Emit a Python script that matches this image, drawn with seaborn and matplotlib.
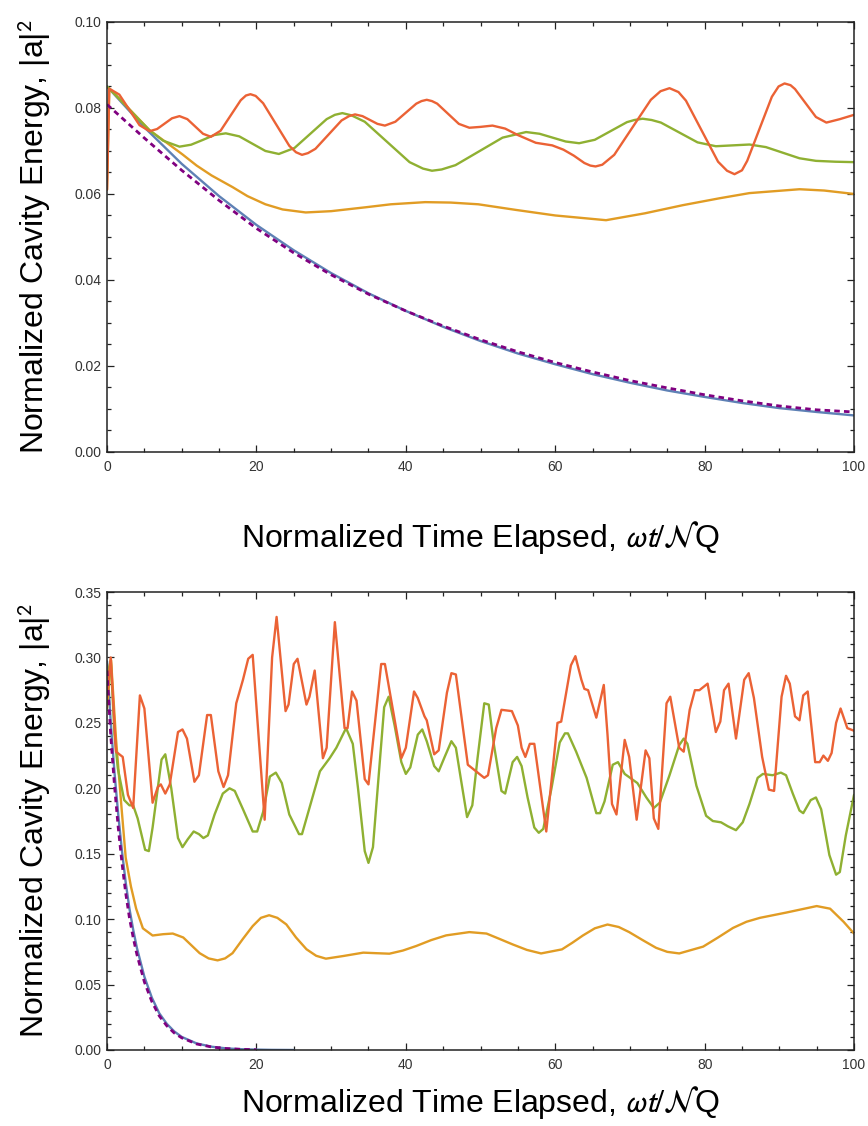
import matplotlib
matplotlib.use("Agg")
import matplotlib.pyplot as plt
import seaborn as sns
from matplotlib.ticker import MultipleLocator, FormatStrFormatter

# ---------------- top panel data ----------------
top_blue_t = [0, 5, 10, 15, 20, 25, 30, 35, 40, 45, 50, 55, 60, 65, 70, 75, 80, 85, 90, 95, 100]
top_blue_y = [0.0850, 0.0755, 0.0670, 0.0595, 0.0528, 0.0469, 0.0416, 0.0369, 0.0328, 0.0291, 0.0258,
              0.0229, 0.0204, 0.0181, 0.0161, 0.0143, 0.0128, 0.0114, 0.0102, 0.0093, 0.0085]
top_purple_t = top_blue_t
top_purple_y = [0.0808, 0.0730, 0.0655, 0.0585, 0.0520, 0.0463, 0.0412, 0.0367, 0.0328, 0.0293, 0.0261,
                0.0233, 0.0208, 0.0186, 0.0166, 0.0149, 0.0133, 0.0119, 0.0107, 0.0098, 0.0093]
top_orange_t = [0, 0.3, 2, 4, 5.7, 8, 10.1, 12, 14, 16.8, 18.8, 21.2, 23.5, 26.6, 30, 34.6, 38, 42.6, 46,
                49.7, 54.7, 60, 66.8, 72, 77.1, 82, 86, 92.7, 96, 100]
top_orange_y = [0.061, 0.0845, 0.0815, 0.0779, 0.0748, 0.0719, 0.0692, 0.0666, 0.0643, 0.0616, 0.0595,
                0.0576, 0.0564, 0.0557, 0.0560, 0.0569, 0.0576, 0.0581, 0.0580, 0.0576, 0.0563, 0.0550,
                0.0539, 0.0555, 0.0574, 0.0590, 0.0602, 0.0611, 0.0608, 0.0600]
top_green_t = [0, 0.3, 2, 4, 5.7, 7.5, 9.7, 11.25, 12.8, 14.35, 15.9, 17.7, 19.45, 21.2, 23.0, 25.1, 27.25,
               29.4, 30.5, 31.5, 32.7, 34.5, 37.5, 40.5, 42.3, 43.5, 44.8, 46.65, 49.8, 52.95, 56.1, 57.9,
               59.65, 61.4, 63.2, 65.3, 67.45, 69.6, 70.6, 71.7, 72.9, 74.15, 76.6, 79.05, 81.5, 83.75,
               86.0, 88.2, 90.45, 92.7, 94.9, 97.5, 100]
top_green_y = [0.0850, 0.0845, 0.0815, 0.0778, 0.0748, 0.0724, 0.0710, 0.07145, 0.07255, 0.0737, 0.0741,
               0.0734, 0.0717, 0.0700, 0.0693, 0.0707, 0.07405, 0.0774, 0.0784, 0.0788, 0.0783, 0.0768,
               0.0721, 0.0674, 0.0659, 0.0654, 0.0657, 0.0667, 0.0699, 0.0731, 0.0744, 0.0740, 0.0731,
               0.0722, 0.0718, 0.0726, 0.07465, 0.0767, 0.0772, 0.0775, 0.0772, 0.0766, 0.0743, 0.0720,
               0.0711, 0.0713, 0.0715, 0.0709, 0.0696, 0.0683, 0.0677, 0.0675, 0.0674]
top_red_t = [0, 0.3, 1.65, 3.0, 4.35, 5.7, 6.7, 7.7, 8.7, 9.7, 10.75, 11.8, 12.85, 13.9, 15.2, 16.55, 17.9,
             18.6, 19.2, 19.9, 20.9, 22.65, 24.4, 25.3, 26.1, 26.9, 27.9, 29.65, 31.4, 32.4, 33.2, 34.2,
             35.2, 36.2, 37.2, 38.6, 40.0, 41.4, 42.1, 42.8, 43.5, 44.2, 45.65, 47.1, 48.5, 50.0, 51.6,
             53.3, 55.0, 57.4, 59.6, 61.1, 62.5, 63.9, 64.7, 65.4, 66.3, 67.9, 70.35, 72.8, 74.1, 75.3,
             76.5, 77.5, 79.65, 81.8, 83.0, 84.0, 85.0, 85.7, 87.35, 89.0, 89.9, 90.7, 91.5, 92.1, 93.5,
             94.9, 96.3, 98.1, 100]
top_red_y = [0.061, 0.0845, 0.0831, 0.07955, 0.0760, 0.0746, 0.0751, 0.07635, 0.0776, 0.0781, 0.0774,
             0.0757, 0.0740, 0.0733, 0.0747, 0.07825, 0.0818, 0.0829, 0.0832, 0.0828, 0.0811, 0.07615,
             0.0712, 0.0697, 0.0691, 0.0695, 0.0705, 0.0738, 0.0771, 0.0781, 0.0785, 0.0781, 0.0772,
             0.0763, 0.0759, 0.0768, 0.0789, 0.0810, 0.0816, 0.0819, 0.0816, 0.0810, 0.07865, 0.0763,
             0.0754, 0.0756, 0.0759, 0.0752, 0.0737, 0.0719, 0.0713, 0.0703, 0.0689, 0.0672, 0.0666,
             0.0664, 0.0668, 0.0691, 0.0755, 0.0819, 0.0839, 0.0846, 0.0837, 0.0817, 0.0746, 0.0675,
             0.0654, 0.0646, 0.0655, 0.0677, 0.07515, 0.0826, 0.0850, 0.0857, 0.0853, 0.0844, 0.08115,
             0.0779, 0.0766, 0.0774, 0.0784]

# ---------------- bottom panel data ----------------
bot_blue_t = [0, 0.5, 1, 1.5, 2, 2.5, 3, 3.5, 4, 5, 6, 7, 8, 9, 10, 12, 14, 16, 18, 20, 22, 25]
bot_blue_y = [0.297, 0.250, 0.212, 0.180, 0.152, 0.128, 0.108, 0.092, 0.078, 0.056, 0.040, 0.028, 0.020,
              0.0142, 0.0100, 0.0050, 0.0025, 0.0012, 0.0006, 0.0003, 0.0001, 0.0]
bot_purple_t = [0, 0.5, 1, 1.5, 2, 2.5, 3, 3.5, 4, 5, 6, 7, 8, 9, 10, 12, 14, 16, 18, 20]
bot_purple_y = [0.290, 0.240, 0.202, 0.170, 0.143, 0.120, 0.101, 0.086, 0.073, 0.052, 0.037, 0.026, 0.0185,
                0.013, 0.0093, 0.0046, 0.0023, 0.0011, 0.0005, 0.0002]
bot_orange_t = [0, 0.54, 1.2, 1.9, 2.5, 3.2, 3.9, 4.8, 6.1, 7.5, 8.8, 10.2, 11.3, 12.4, 13.6, 14.8, 15.8,
                16.8, 18.2, 19.5, 20.6, 21.7, 22.8, 24.0, 25.3, 26.7, 28.0, 29.3, 31.6, 34.3, 36, 37.8,
                39.6, 41.4, 43.4, 45.4, 48.5, 50.8, 52.5, 54.3, 56.2, 58.1, 60.9, 62.3, 63.7, 65.3, 67.0,
                68.5, 69.9, 71.7, 73.5, 75.0, 76.6, 79.8, 81.8, 83.8, 85.6, 87.4, 90.9, 95.0, 96.8, 98.6, 100]
bot_orange_y = [0.261, 0.298, 0.238, 0.188, 0.147, 0.125, 0.108, 0.093, 0.0875, 0.0885, 0.089, 0.086, 0.080,
                0.074, 0.070, 0.0685, 0.070, 0.074, 0.085, 0.0947, 0.101, 0.103, 0.101, 0.096, 0.086, 0.077,
                0.072, 0.0698, 0.0718, 0.0744, 0.074, 0.0736, 0.076, 0.0795, 0.084, 0.0876, 0.0901, 0.089,
                0.085, 0.0807, 0.0765, 0.0738, 0.0769, 0.082, 0.0875, 0.093, 0.0959, 0.094, 0.0901, 0.084,
                0.0781, 0.075, 0.0738, 0.079, 0.086, 0.0933, 0.098, 0.101, 0.105, 0.110, 0.108, 0.098, 0.089]
bot_green_t = [0, 0.5, 1.0, 1.45, 2.3, 3.0, 3.5, 4.1, 5.1, 5.6, 6.1, 7.3, 7.8, 8.6, 9.5, 10.1, 10.8, 11.6,
               12.3, 12.9, 13.5, 14.4, 15.5, 16.4, 17.1, 18.2, 19.5, 20.1, 20.9, 21.8, 22.6, 23.4, 24.4,
               25.7, 26.1, 27.1, 28.5, 29.8, 30.7, 32.0, 32.9, 33.6, 34.5, 35.0, 35.6, 37.1, 37.7, 38.5,
               39.4, 40.0, 40.6, 41.6, 42.2, 42.8, 43.8, 44.4, 45.2, 46.1, 46.7, 47.4, 48.2, 48.9, 49.6,
               50.5, 51.1, 51.8, 52.8, 53.3, 54.3, 54.9, 55.5, 56.3, 57.2, 57.8, 58.4, 59.5, 60.6, 61.3,
               61.7, 62.8, 64.2, 65.5, 66.0, 66.6, 67.7, 68.4, 69.3, 71.0, 72.2, 73.2, 74.0, 75.3, 76.6,
               77.2, 77.7, 78.9, 80.2, 81.1, 82.2, 83.1, 84.2, 85.1, 86.0, 87.1, 87.8, 89.1, 90.2, 90.9,
               91.8, 92.7, 93.2, 94.2, 94.9, 95.6, 96.7, 97.6, 98.1, 98.9, 100]
bot_green_y = [0.285, 0.298, 0.241, 0.215, 0.191, 0.187, 0.187, 0.177, 0.153, 0.152, 0.170, 0.222, 0.226,
               0.200, 0.162, 0.155, 0.161, 0.167, 0.165, 0.162, 0.164, 0.180, 0.196, 0.200, 0.198, 0.184,
               0.167, 0.167, 0.182, 0.209, 0.212, 0.204, 0.180, 0.165, 0.165, 0.185, 0.213, 0.223, 0.231,
               0.246, 0.234, 0.200, 0.152, 0.143, 0.155, 0.262, 0.270, 0.248, 0.220, 0.211, 0.216, 0.241,
               0.245, 0.236, 0.217, 0.213, 0.224, 0.236, 0.231, 0.206, 0.178, 0.187, 0.223, 0.265, 0.264,
               0.233, 0.198, 0.196, 0.220, 0.224, 0.217, 0.193, 0.170, 0.166, 0.169, 0.200, 0.235, 0.242,
               0.242, 0.228, 0.208, 0.181, 0.181, 0.190, 0.218, 0.220, 0.211, 0.204, 0.193, 0.185, 0.189,
               0.210, 0.233, 0.238, 0.234, 0.202, 0.179, 0.175, 0.174, 0.171, 0.168, 0.174, 0.188, 0.208,
               0.211, 0.210, 0.212, 0.210, 0.196, 0.183, 0.181, 0.191, 0.193, 0.184, 0.149, 0.134, 0.136,
               0.164, 0.195]
bot_red_t = [0, 0.5, 1.2, 2.1, 2.8, 3.5, 4.4, 5.0, 6.1, 6.8, 7.2, 7.8, 8.4, 9.5, 10.1, 10.7, 11.7, 12.3,
             13.4, 13.9, 14.9, 15.6, 16.2, 17.3, 18.2, 18.9, 19.5, 21.1, 22.1, 22.7, 23.9, 24.3, 25.0, 25.5,
             26.7, 27.1, 27.8, 28.9, 29.4, 30.5, 31.8, 32.2, 32.8, 33.4, 34.5, 35.0, 36.7, 37.2, 39.4, 40.0,
             41.1, 41.6, 42.5, 42.8, 43.8, 44.4, 45.5, 46.1, 46.7, 48.3, 49.4, 50.5, 51.0, 52.1, 52.8, 54.2,
             55.0, 55.5, 56.0, 56.6, 57.2, 58.8, 60.3, 60.8, 62.1, 62.7, 63.5, 63.9, 64.4, 65.5, 66.5, 67.0,
             67.6, 68.2, 69.3, 69.9, 70.9, 72.1, 72.6, 73.2, 73.8, 74.9, 75.4, 76.6, 77.2, 78.0, 78.7, 79.3,
             80.4, 81.5, 82.1, 82.6, 83.2, 84.2, 85.3, 85.9, 86.6, 87.7, 88.6, 89.3, 90.3, 90.9, 91.4, 92.1,
             92.7, 93.2, 93.8, 94.8, 95.4, 95.9, 96.5, 97.0, 97.6, 98.2, 99.1, 100]
bot_red_y = [0.270, 0.300, 0.228, 0.224, 0.195, 0.185, 0.271, 0.261, 0.189, 0.201, 0.203, 0.196, 0.203,
             0.243, 0.245, 0.238, 0.205, 0.210, 0.256, 0.256, 0.213, 0.201, 0.210, 0.265, 0.283, 0.299,
             0.302, 0.176, 0.300, 0.331, 0.259, 0.264, 0.295, 0.299, 0.264, 0.270, 0.290, 0.223, 0.231,
             0.327, 0.246, 0.246, 0.274, 0.267, 0.207, 0.203, 0.295, 0.295, 0.223, 0.231, 0.274, 0.269,
             0.255, 0.252, 0.226, 0.229, 0.273, 0.288, 0.287, 0.218, 0.213, 0.208, 0.210, 0.246, 0.260,
             0.259, 0.248, 0.231, 0.224, 0.234, 0.234, 0.167, 0.250, 0.251, 0.294, 0.301, 0.283, 0.276,
             0.275, 0.254, 0.279, 0.241, 0.188, 0.180, 0.237, 0.224, 0.176, 0.229, 0.223, 0.177, 0.169,
             0.265, 0.270, 0.231, 0.228, 0.260, 0.275, 0.275, 0.280, 0.243, 0.251, 0.275, 0.280, 0.238,
             0.283, 0.288, 0.269, 0.224, 0.199, 0.198, 0.270, 0.286, 0.280, 0.255, 0.252, 0.271, 0.274,
             0.220, 0.220, 0.225, 0.221, 0.227, 0.250, 0.261, 0.246, 0.244]

x_ticks = [0, 20, 40, 60, 80, 100]
top_y_ticks = [0.00, 0.02, 0.04, 0.06, 0.08, 0.10]
bot_y_ticks = [0.00, 0.05, 0.10, 0.15, 0.20, 0.25, 0.30, 0.35]

x_label = r"Normalized Time Elapsed, $\omega t/\mathcal{N}$Q"
y_label = r"Normalized Cavity Energy, |a|$^{2}$"

C_BLUE = "#5E81B5"
C_ORANGE = "#E19C24"
C_GREEN = "#8FB032"
C_RED = "#EB6235"
C_PURPLE = "#800080"

sns.set_style("ticks")
plt.rcParams["font.family"] = ["Liberation Sans", "DejaVu Sans"]
plt.rcParams["mathtext.fontset"] = "stixsans"

fig = plt.figure(figsize=(8.68, 11.26), dpi=100)
ax1 = fig.add_axes([0.1233, 0.5986, 0.8606, 0.3819])
ax2 = fig.add_axes([0.1233, 0.0675, 0.8606, 0.4067])


def draw(ax, t, y, color, dashed=False):
    kw = dict(x=t, y=y, ax=ax, color=color, linewidth=1.7, sort=False, errorbar=None, legend=False)
    if dashed:
        kw["linestyle"] = (0, (2.0, 1.5))
        kw["linewidth"] = 2.0
    sns.lineplot(**kw)


draw(ax1, top_blue_t, top_blue_y, C_BLUE)
draw(ax1, top_orange_t, top_orange_y, C_ORANGE)
draw(ax1, top_green_t, top_green_y, C_GREEN)
draw(ax1, top_red_t, top_red_y, C_RED)
draw(ax1, top_purple_t, top_purple_y, C_PURPLE, dashed=True)

draw(ax2, bot_blue_t, bot_blue_y, C_BLUE)
draw(ax2, bot_orange_t, bot_orange_y, C_ORANGE)
draw(ax2, bot_green_t, bot_green_y, C_GREEN)
draw(ax2, bot_red_t, bot_red_y, C_RED)
draw(ax2, bot_purple_t, bot_purple_y, C_PURPLE, dashed=True)

for ax, yt, ymax, yminor, ylab_y in [(ax1, top_y_ticks, 0.10, 0.005, -0.198),
                                      (ax2, bot_y_ticks, 0.35, 0.01, -0.115)]:
    ax.set_xlim(0, 100)
    ax.set_ylim(0, ymax)
    ax.set_xticks(x_ticks)
    ax.set_yticks(yt)
    ax.xaxis.set_minor_locator(MultipleLocator(5))
    ax.yaxis.set_minor_locator(MultipleLocator(yminor))
    ax.yaxis.set_major_formatter(FormatStrFormatter("%.2f"))
    ax.tick_params(which="both", direction="in", top=True, right=True,
                   labeltop=False, labelright=False, color="#222222", width=0.9)
    ax.tick_params(which="major", length=5)
    ax.tick_params(which="minor", length=3)
    ax.tick_params(axis="y", labelsize=10, labelcolor="#333333", pad=4)
    ax.tick_params(axis="x", labelsize=10, labelcolor="#333333", pad=6)
    for s in ax.spines.values():
        s.set_visible(True)
        s.set_linewidth(1.1)
        s.set_color("#222222")
    ax.set_xlabel(x_label, fontsize=23, color="black", va="center")
    ax.xaxis.set_label_coords(0.5, ylab_y)
    ax.set_ylabel(y_label, fontsize=23, color="black", va="center")
    ax.yaxis.set_label_coords(-0.097, 0.5)

fig.savefig("out.png", dpi=100)
